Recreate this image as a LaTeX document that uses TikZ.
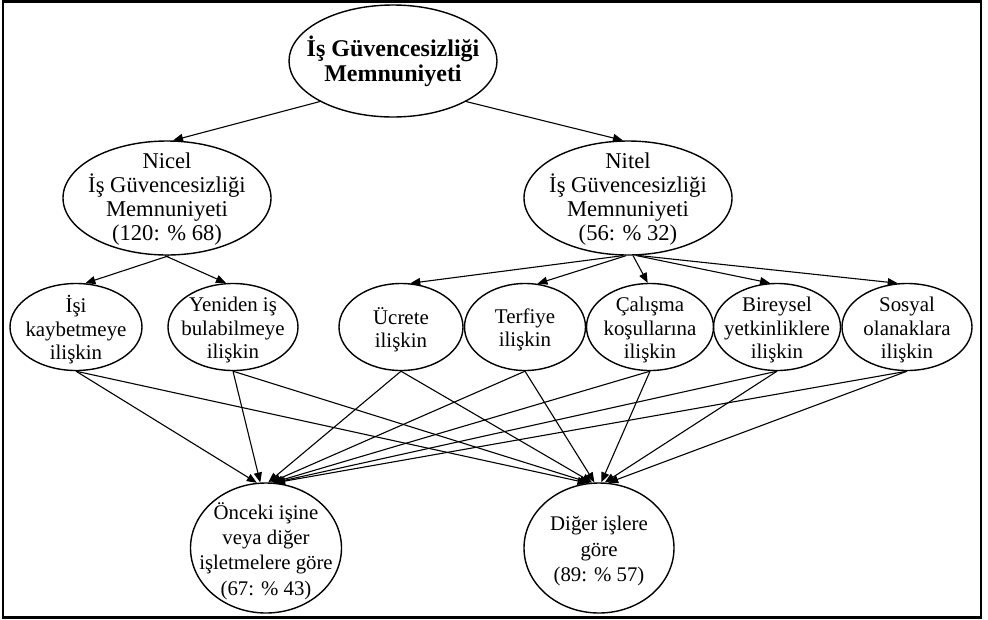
\documentclass[tikz,border=0pt]{standalone}
\usepackage{fontspec}
\setmainfont{Liberation Serif}
\usetikzlibrary{shapes.geometric,arrows.meta}
\begin{document}
\begin{tikzpicture}[x=1pt,y=-1pt,
  ell/.style={ellipse,draw,line width=1.4pt,inner sep=0pt},
  lab/.style={align=center,inner sep=0pt},
  big/.style={font=\fontsize{24}{25}\selectfont\bfseries},
  mid/.style={font=\fontsize{22.6}{24}\selectfont},
  sml/.style={font=\fontsize{20.9}{23.5}\selectfont},
  bot/.style={font=\fontsize{20.8}{25.3}\selectfont},
  edge/.style={line width=1.1pt,-{Triangle[length=10pt,width=8pt]}}]
\useasboundingbox (0,0) rectangle (988,619);
\draw[line width=2.2pt] (3,1.5) rectangle (981,617.5);

\node[ell,minimum width=208pt,minimum height=112pt,
  label={[lab,big]center:İş Güvencesizliği\\Memnuniyeti}] (root) at (393,61) {};
\node[ell,minimum width=208pt,minimum height=114pt,
  label={[lab,mid,yshift=-1.5pt]center:Nicel\\İş Güvencesizliği\\Memnuniyeti\\(120: \% 68)}] (nicel) at (167,198) {};
\node[ell,minimum width=208pt,minimum height=114pt,
  label={[lab,mid,yshift=-1.5pt]center:Nitel\\İş Güvencesizliği\\Memnuniyeti\\(56: \% 32)}] (nitel) at (628,198) {};

\node[ell,minimum width=132pt,minimum height=87pt,
  label={[lab,sml,yshift=-3pt]center:İşi\\kaybetmeye\\ilişkin}] (isi) at (76,327) {};
\node[ell,minimum width=130pt,minimum height=87pt,
  label={[lab,sml,yshift=-3pt]center:Yeniden iş\\bulabilmeye\\ilişkin}] (yeniden) at (233,327) {};
\node[ell,minimum width=124pt,minimum height=87pt,
  label={[lab,sml,yshift=-3pt]center:Ücrete\\ilişkin}] (ucrete) at (401,327) {};
\node[ell,minimum width=121pt,minimum height=87pt,
  label={[lab,sml,yshift=-3pt]center:Terfiye\\ilişkin}] (terfiye) at (525,327) {};
\node[ell,minimum width=127pt,minimum height=87pt,
  label={[lab,sml,yshift=-3pt]center:Çalışma\\koşullarına\\ilişkin}] (calisma) at (650,327) {};
\node[ell,minimum width=127pt,minimum height=87pt,
  label={[lab,sml,yshift=-3pt]center:Bireysel\\yetkinliklere\\ilişkin}] (bireysel) at (777,327) {};
\node[ell,minimum width=130pt,minimum height=87pt,
  label={[lab,sml,yshift=-3pt]center:Sosyal\\olanaklara\\ilişkin}] (sosyal) at (907,327) {};

\node[ell,minimum width=151pt,minimum height=130pt,
  label={[lab,bot,yshift=-3pt]center:Önceki işine\\veya diğer\\işletmelere göre\\(67: \% 43)}] (onceki) at (266,548) {};
\node[ell,minimum width=150pt,minimum height=130pt,
  label={[lab,bot,yshift=-3pt]center:Diğer işlere\\göre\\(89: \% 57)}] (diger) at (599,548) {};

\draw[edge] (root.209) -- (nicel.84);
\draw[edge] (root.331) -- (nitel.95);

\draw[edge] (nicel.272) -- (isi.78);
\draw[edge] (nicel.268) -- (yeniden.99);

\draw[edge] (nitel.265) -- (ucrete.78);
\draw[edge] (nitel.268) -- (terfiye.74);
\draw[edge] (nitel.275) -- (calisma.93);
\draw[edge] (nitel.278) -- (bireysel.99);
\draw[edge] (nitel.280) -- (sosyal.102);

\draw[edge] (isi.south) -- (onceki.98);
\draw[edge] (yeniden.south) -- (onceki.95);
\draw[edge] (ucrete.south) -- (onceki.88);
\draw[edge] (terfiye.south) -- (onceki.86);
\draw[edge] (calisma.south) -- (onceki.84);
\draw[edge] (bireysel.south) -- (onceki.83);
\draw[edge] (sosyal.south) -- (onceki.82);

\draw[edge] (isi.south) -- (diger.100);
\draw[edge] (yeniden.south) -- (diger.98);
\draw[edge] (ucrete.south) -- (diger.96);
\draw[edge] (terfiye.south) -- (diger.94);
\draw[edge] (calisma.south) -- (diger.88);
\draw[edge] (bireysel.south) -- (diger.85);
\draw[edge] (sosyal.south) -- (diger.82);
\end{tikzpicture}
\end{document}
